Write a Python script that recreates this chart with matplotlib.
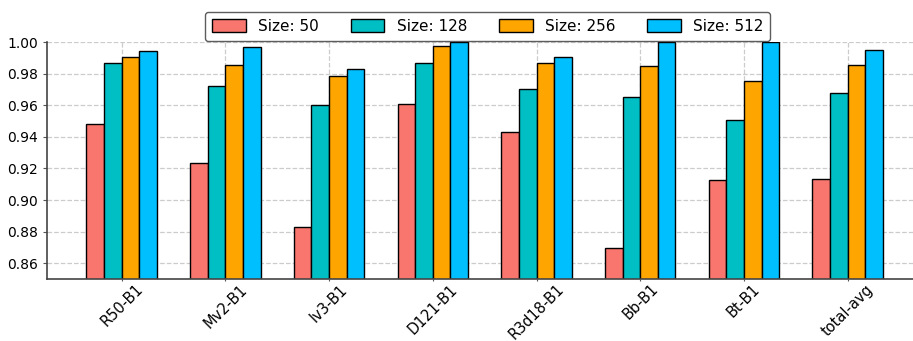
import numpy as np
import matplotlib
matplotlib.use("Agg")
import matplotlib.pyplot as plt

categories = ["R50-B1", "Mv2-B1", "Iv3-B1", "D121-B1", "R3d18-B1", "Bb-B1", "Bt-B1", "total-avg"]
size_50 = [0.948, 0.9232, 0.8826, 0.9605, 0.9428, 0.8697, 0.9126, 0.9136]
size_128 = [0.987, 0.9723, 0.960, 0.987, 0.970, 0.965, 0.9504, 0.9675]
size_256 = [0.9907, 0.9854, 0.9785, 0.9977, 0.9867, 0.985, 0.9755, 0.9856]
size_512 = [0.9945, 0.9966, 0.9829, 1.000, 0.9905, 1.000, 1.000, 0.9951]
series_labels = ["Size: 50", "Size: 128", "Size: 256", "Size: 512"]
colors = ["#F8766D", "#00BFC4", "#FFA500", "#00BFFF"]

fig = plt.figure(figsize=(9.13, 3.41), dpi=100)
ax = fig.add_axes([47 / 913, 1 - 279 / 341, 866 / 913, 237 / 341])

x = np.arange(len(categories))
width = 0.17
series = [size_50, size_128, size_256, size_512]
for i, (vals, lab, col) in enumerate(zip(series, series_labels, colors)):
    ax.bar(x + (i - 1.5) * width, vals, width, label=lab, color=col,
           edgecolor="black", linewidth=1.0)

ax.set_ylim(0.85, 1.0)
ax.set_xlim(-0.72, 7.63)
yt = np.arange(0.86, 1.001, 0.02)
ax.set_yticks(yt)
ax.set_yticklabels([f"{v:.2f}" for v in yt], fontsize=10)
ax.set_xticks(x)
ax.set_xticklabels(categories, rotation=45, fontsize=10.5, ha="center")
ax.tick_params(axis="y", length=3, color="#555555")
ax.tick_params(axis="x", length=1.5, pad=0.3, color="#555555")
ax.grid(True, linestyle="--", color="#cccccc", linewidth=0.9)
ax.set_axisbelow(True)
for s in ["top", "right"]:
    ax.spines[s].set_visible(False)
for s in ["left", "bottom"]:
    ax.spines[s].set_color("#444444")
    ax.spines[s].set_linewidth(1.2)

leg = ax.legend(loc="upper center", bbox_to_anchor=(0.509, 1.158), ncol=4,
                fontsize=11, frameon=True, fancybox=True, handlelength=2.2,
                handleheight=0.9, columnspacing=2.1, borderpad=0.45)
leg.get_frame().set_edgecolor("#333333")
leg.get_frame().set_linewidth(1.0)

fig.savefig("out.png", dpi=100)
